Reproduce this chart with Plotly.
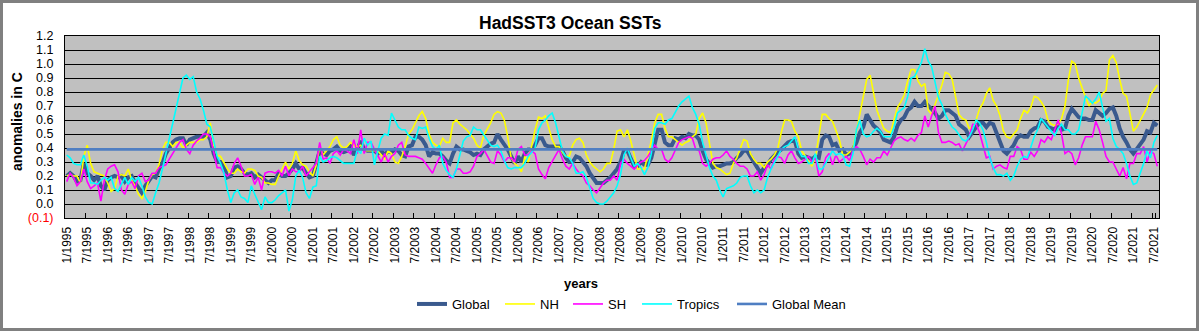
import plotly.graph_objects as go

# ---------------- data (monthly anomalies, 1/1995 .. 8/2021) ----------------
start_year = 1995
n_months = 320
months = [f"{(i % 12) + 1}/{start_year + i // 12}" for i in range(n_months)]
tick_labels = months[::6]

global_sst = [
    0.20, 0.22, 0.20, 0.16, 0.17, 0.29, 0.22, 0.20, 0.17, 0.20, 0.13, 0.10,
    0.17, 0.19, 0.20, 0.19, 0.20, 0.16, 0.19, 0.20, 0.15, 0.11, 0.08, 0.13,
    0.16, 0.20, 0.19, 0.25, 0.29, 0.36, 0.40, 0.44, 0.46, 0.47, 0.47, 0.42,
    0.46, 0.47, 0.48, 0.48, 0.48, 0.51, 0.46, 0.36, 0.30, 0.30, 0.27, 0.19,
    0.20, 0.26, 0.27, 0.25, 0.22, 0.21, 0.22, 0.19, 0.21, 0.19, 0.17, 0.15,
    0.17, 0.17, 0.22, 0.20, 0.20, 0.22, 0.25, 0.29, 0.25, 0.26, 0.22, 0.19,
    0.20, 0.28, 0.38, 0.36, 0.35, 0.38, 0.39, 0.41, 0.38, 0.37, 0.38, 0.41,
    0.35, 0.39, 0.45, 0.39, 0.38, 0.38, 0.38, 0.36, 0.38, 0.35, 0.38, 0.37,
    0.39, 0.38, 0.35, 0.34, 0.41, 0.42, 0.48, 0.48, 0.46, 0.42, 0.34, 0.37,
    0.36, 0.36, 0.34, 0.31, 0.29, 0.36, 0.41, 0.39, 0.39, 0.38, 0.37, 0.35,
    0.36, 0.35, 0.39, 0.41, 0.43, 0.44, 0.50, 0.46, 0.43, 0.39, 0.34, 0.29,
    0.34, 0.30, 0.36, 0.39, 0.39, 0.42, 0.47, 0.47, 0.42, 0.41, 0.41, 0.41,
    0.41, 0.38, 0.33, 0.30, 0.30, 0.34, 0.33, 0.30, 0.27, 0.22, 0.18, 0.15,
    0.15, 0.15, 0.17, 0.19, 0.22, 0.25, 0.30, 0.38, 0.38, 0.32, 0.27, 0.27,
    0.30, 0.28, 0.28, 0.33, 0.44, 0.53, 0.53, 0.44, 0.42, 0.42, 0.47, 0.46,
    0.48, 0.47, 0.50, 0.49, 0.49, 0.46, 0.38, 0.32, 0.29, 0.26, 0.27, 0.27,
    0.28, 0.29, 0.29, 0.30, 0.33, 0.35, 0.38, 0.38, 0.34, 0.30, 0.25, 0.22,
    0.26, 0.28, 0.32, 0.35, 0.37, 0.39, 0.42, 0.44, 0.45, 0.45, 0.36, 0.33,
    0.34, 0.33, 0.32, 0.34, 0.33, 0.46, 0.49, 0.48, 0.42, 0.43, 0.38, 0.39,
    0.35, 0.36, 0.39, 0.44, 0.51, 0.55, 0.64, 0.60, 0.56, 0.54, 0.51, 0.46,
    0.45, 0.44, 0.48, 0.56, 0.60, 0.62, 0.67, 0.69, 0.73, 0.70, 0.70, 0.73,
    0.70, 0.68, 0.65, 0.61, 0.63, 0.67, 0.67, 0.65, 0.63, 0.57, 0.55, 0.53,
    0.48, 0.52, 0.55, 0.58, 0.58, 0.55, 0.58, 0.57, 0.50, 0.45, 0.38, 0.36,
    0.39, 0.42, 0.47, 0.49, 0.48, 0.48, 0.52, 0.54, 0.55, 0.60, 0.59, 0.55,
    0.54, 0.53, 0.57, 0.53, 0.54, 0.63, 0.68, 0.65, 0.62, 0.61, 0.61, 0.60,
    0.60, 0.67, 0.65, 0.63, 0.65, 0.68, 0.69, 0.63, 0.54, 0.48, 0.44, 0.39,
    0.36, 0.39, 0.43, 0.46, 0.52, 0.51, 0.58, 0.56,
]

nh_sst = [
    0.20, 0.21, 0.20, 0.20, 0.15, 0.34, 0.42, 0.29, 0.23, 0.22, 0.21, 0.20,
    0.15, 0.09, 0.11, 0.20, 0.21, 0.20, 0.25, 0.17, 0.13, 0.07, 0.04, 0.09,
    0.17, 0.21, 0.22, 0.28, 0.39, 0.44, 0.44, 0.41, 0.44, 0.44, 0.40, 0.42,
    0.44, 0.44, 0.44, 0.46, 0.46, 0.48, 0.58, 0.42, 0.35, 0.34, 0.29, 0.25,
    0.22, 0.22, 0.25, 0.23, 0.22, 0.25, 0.25, 0.24, 0.20, 0.19, 0.15, 0.15,
    0.14, 0.14, 0.20, 0.25, 0.30, 0.25, 0.29, 0.38, 0.31, 0.28, 0.27, 0.23,
    0.20, 0.28, 0.41, 0.35, 0.38, 0.41, 0.46, 0.48, 0.42, 0.40, 0.41, 0.44,
    0.42, 0.41, 0.42, 0.38, 0.38, 0.38, 0.38, 0.38, 0.35, 0.32, 0.38, 0.36,
    0.30, 0.29, 0.34, 0.41, 0.50, 0.53, 0.58, 0.63, 0.66, 0.61, 0.50, 0.44,
    0.42, 0.41, 0.47, 0.44, 0.44, 0.58, 0.60, 0.57, 0.55, 0.53, 0.50, 0.47,
    0.42, 0.40, 0.49, 0.53, 0.58, 0.64, 0.66, 0.65, 0.60, 0.48, 0.33, 0.29,
    0.27, 0.23, 0.34, 0.30, 0.42, 0.53, 0.62, 0.61, 0.63, 0.55, 0.46, 0.41,
    0.41, 0.37, 0.34, 0.34, 0.42, 0.46, 0.47, 0.44, 0.35, 0.30, 0.27, 0.25,
    0.23, 0.25, 0.29, 0.29, 0.39, 0.52, 0.53, 0.48, 0.53, 0.45, 0.35, 0.25,
    0.25, 0.25, 0.35, 0.45, 0.58, 0.64, 0.64, 0.54, 0.48, 0.48, 0.46, 0.44,
    0.42, 0.44, 0.45, 0.48, 0.50, 0.61, 0.65, 0.58, 0.44, 0.29, 0.26, 0.25,
    0.23, 0.21, 0.22, 0.29, 0.33, 0.40, 0.46, 0.45, 0.36, 0.32, 0.29, 0.29,
    0.26, 0.30, 0.32, 0.35, 0.40, 0.51, 0.60, 0.60, 0.59, 0.52, 0.48, 0.38,
    0.34, 0.30, 0.27, 0.33, 0.48, 0.64, 0.64, 0.61, 0.59, 0.52, 0.46, 0.35,
    0.35, 0.37, 0.40, 0.52, 0.65, 0.76, 0.89, 0.92, 0.79, 0.67, 0.60, 0.54,
    0.52, 0.51, 0.60, 0.69, 0.73, 0.78, 0.88, 0.96, 0.96, 0.88, 0.84, 0.86,
    0.67, 0.64, 0.71, 0.78, 0.85, 0.94, 0.93, 0.89, 0.76, 0.64, 0.61, 0.60,
    0.54, 0.55, 0.60, 0.68, 0.72, 0.79, 0.83, 0.74, 0.70, 0.63, 0.52, 0.48,
    0.47, 0.50, 0.53, 0.61, 0.67, 0.65, 0.69, 0.77, 0.76, 0.73, 0.69, 0.60,
    0.57, 0.56, 0.57, 0.61, 0.70, 0.89, 1.02, 1.00, 0.90, 0.83, 0.77, 0.70,
    0.73, 0.72, 0.74, 0.79, 0.81, 1.03, 1.06, 1.01, 0.89, 0.79, 0.77, 0.65,
    0.52, 0.55, 0.60, 0.65, 0.69, 0.78, 0.82, 0.85,
]

sh_sst = [
    0.16, 0.22, 0.19, 0.13, 0.16, 0.25, 0.16, 0.11, 0.13, 0.15, 0.02, 0.17,
    0.25, 0.27, 0.28, 0.23, 0.10, 0.07, 0.14, 0.16, 0.11, 0.20, 0.22, 0.16,
    0.17, 0.22, 0.22, 0.26, 0.27, 0.28, 0.32, 0.36, 0.41, 0.44, 0.46, 0.39,
    0.36, 0.42, 0.45, 0.47, 0.50, 0.50, 0.48, 0.36, 0.26, 0.26, 0.22, 0.20,
    0.22, 0.29, 0.33, 0.27, 0.20, 0.20, 0.21, 0.14, 0.19, 0.10, 0.22, 0.23,
    0.23, 0.22, 0.24, 0.20, 0.27, 0.20, 0.25, 0.23, 0.23, 0.27, 0.20, 0.23,
    0.26, 0.29, 0.44, 0.32, 0.33, 0.29, 0.36, 0.38, 0.35, 0.39, 0.38, 0.36,
    0.46, 0.36, 0.53, 0.36, 0.44, 0.44, 0.39, 0.34, 0.30, 0.36, 0.30, 0.34,
    0.36, 0.42, 0.44, 0.35, 0.34, 0.34, 0.34, 0.33, 0.32, 0.29, 0.25, 0.22,
    0.28, 0.33, 0.34, 0.30, 0.19, 0.19, 0.25, 0.25, 0.22, 0.22, 0.23, 0.27,
    0.34, 0.36, 0.39, 0.34, 0.30, 0.29, 0.38, 0.35, 0.30, 0.33, 0.33, 0.30,
    0.39, 0.41, 0.35, 0.35, 0.38, 0.36, 0.25, 0.21, 0.18, 0.26, 0.30, 0.34,
    0.39, 0.32, 0.27, 0.25, 0.29, 0.25, 0.22, 0.20, 0.15, 0.13, 0.10, 0.08,
    0.12, 0.15, 0.17, 0.17, 0.20, 0.17, 0.29, 0.32, 0.29, 0.27, 0.25, 0.28,
    0.30, 0.31, 0.34, 0.38, 0.42, 0.39, 0.39, 0.32, 0.30, 0.33, 0.38, 0.44,
    0.46, 0.47, 0.48, 0.47, 0.39, 0.38, 0.29, 0.27, 0.29, 0.32, 0.33, 0.33,
    0.35, 0.38, 0.34, 0.32, 0.29, 0.27, 0.27, 0.25, 0.20, 0.20, 0.23, 0.17,
    0.21, 0.28, 0.25, 0.32, 0.34, 0.33, 0.29, 0.35, 0.38, 0.33, 0.29, 0.30,
    0.32, 0.34, 0.30, 0.33, 0.20, 0.23, 0.33, 0.36, 0.28, 0.35, 0.30, 0.32,
    0.34, 0.31, 0.39, 0.41, 0.39, 0.34, 0.28, 0.32, 0.30, 0.33, 0.33, 0.38,
    0.35, 0.40, 0.45, 0.47, 0.48, 0.46, 0.45, 0.47, 0.45, 0.49, 0.51, 0.63,
    0.55, 0.63, 0.70, 0.51, 0.44, 0.44, 0.45, 0.44, 0.42, 0.43, 0.38, 0.43,
    0.48, 0.57, 0.57, 0.51, 0.42, 0.33, 0.34, 0.25, 0.27, 0.28, 0.26, 0.25,
    0.34, 0.34, 0.41, 0.39, 0.32, 0.32, 0.37, 0.34, 0.38, 0.46, 0.44, 0.48,
    0.46, 0.53, 0.60, 0.50, 0.36, 0.38, 0.36, 0.28, 0.33, 0.42, 0.48, 0.48,
    0.48, 0.59, 0.53, 0.44, 0.34, 0.30, 0.30, 0.25, 0.20, 0.26, 0.18, 0.29,
    0.29, 0.36, 0.36, 0.41, 0.30, 0.38, 0.36, 0.27,
]

tropics_sst = [
    0.35, 0.33, 0.29, 0.28, 0.28, 0.35, 0.27, 0.15, 0.15, 0.14, 0.17, 0.19,
    0.17, 0.19, 0.11, 0.09, 0.14, 0.19, 0.14, 0.19, 0.16, 0.19, 0.13, 0.05,
    0.01, 0.00, 0.08, 0.15, 0.25, 0.36, 0.47, 0.58, 0.70, 0.80, 0.90, 0.92,
    0.89, 0.91, 0.80, 0.75, 0.67, 0.57, 0.55, 0.45, 0.34, 0.29, 0.22, 0.10,
    0.01, 0.08, 0.10, 0.05, 0.04, 0.01, 0.13, 0.07, 0.02, -0.04, 0.05, 0.01,
    0.01, 0.03, 0.06, 0.08, 0.10, -0.05, 0.03, 0.20, 0.24, 0.19, 0.08, 0.04,
    0.12, 0.13, 0.34, 0.30, 0.31, 0.33, 0.34, 0.33, 0.31, 0.29, 0.29, 0.29,
    0.29, 0.39, 0.36, 0.47, 0.42, 0.45, 0.28, 0.38, 0.47, 0.50, 0.49, 0.65,
    0.60, 0.55, 0.53, 0.53, 0.49, 0.47, 0.46, 0.55, 0.54, 0.55, 0.47, 0.41,
    0.39, 0.42, 0.29, 0.24, 0.21, 0.19, 0.25, 0.34, 0.45, 0.48, 0.49, 0.55,
    0.53, 0.53, 0.49, 0.46, 0.42, 0.41, 0.42, 0.38, 0.31, 0.26, 0.25, 0.26,
    0.26, 0.26, 0.29, 0.34, 0.37, 0.40, 0.53, 0.58, 0.60, 0.63, 0.65, 0.58,
    0.48, 0.38, 0.34, 0.33, 0.29, 0.22, 0.22, 0.23, 0.19, 0.11, 0.04, 0.01,
    0.00, 0.00, 0.02, 0.05, 0.08, 0.13, 0.21, 0.35, 0.40, 0.33, 0.27, 0.29,
    0.26, 0.21, 0.26, 0.36, 0.54, 0.58, 0.58, 0.57, 0.60, 0.61, 0.66, 0.70,
    0.73, 0.75, 0.77, 0.69, 0.64, 0.57, 0.44, 0.35, 0.26, 0.20, 0.17, 0.10,
    0.05, 0.11, 0.12, 0.13, 0.15, 0.19, 0.20, 0.20, 0.13, 0.08, 0.10, 0.08,
    0.10, 0.19, 0.25, 0.29, 0.34, 0.39, 0.41, 0.42, 0.45, 0.48, 0.39, 0.34,
    0.34, 0.29, 0.29, 0.36, 0.25, 0.25, 0.29, 0.34, 0.38, 0.35, 0.36, 0.35,
    0.28, 0.27, 0.36, 0.53, 0.60, 0.50, 0.48, 0.49, 0.52, 0.54, 0.52, 0.48,
    0.48, 0.48, 0.55, 0.65, 0.67, 0.69, 0.77, 0.90, 0.91, 0.96, 1.01, 1.11,
    1.02, 0.98, 0.86, 0.76, 0.71, 0.64, 0.59, 0.55, 0.53, 0.49, 0.46, 0.45,
    0.48, 0.53, 0.60, 0.58, 0.53, 0.44, 0.33, 0.26, 0.21, 0.21, 0.20, 0.22,
    0.17, 0.20, 0.27, 0.32, 0.34, 0.33, 0.40, 0.48, 0.53, 0.61, 0.58, 0.55,
    0.52, 0.49, 0.54, 0.57, 0.53, 0.53, 0.50, 0.50, 0.53, 0.64, 0.77, 0.75,
    0.72, 0.75, 0.80, 0.69, 0.59, 0.61, 0.47, 0.41, 0.39, 0.36, 0.29, 0.20,
    0.14, 0.15, 0.22, 0.29, 0.38, 0.33, 0.44, 0.49,
]

global_mean_value = 0.39
global_mean = [global_mean_value] * n_months

y_tick_vals = [1.2, 1.1, 1.0, 0.9, 0.8, 0.7, 0.6, 0.5, 0.4, 0.3, 0.2, 0.1, 0.0, -0.1]
y_tick_text = ["1.2", "1.1", "1.0", "0.9", "0.8", "0.7", "0.6", "0.5", "0.4",
               "0.3", "0.2", "0.1", "0.0", "<span style='color:#FF0000'>(0.1)</span>"]

# ---------------- figure ----------------
W, H = 1199, 331
ML, MR, MT, MB = 65, 40, 36, 113
PW, PH = W - ML - MR, H - MT - MB


def px_x(px):
    return (px - ML) / PW


def px_y(py):
    return (H - MB - py) / PH


FONT = "Liberation Sans, Arial, sans-serif"

fig = go.Figure()
# name, values, colour, width, legend id, x pixel where the legend text begins
series = [
    ("Global", global_sst, "#3A5A8E", 4, "legend", 452),
    ("NH", nh_sst, "#FFFF00", 1.6, "legend2", 540),
    ("SH", sh_sst, "#FF00FF", 1.6, "legend3", 608),
    ("Tropics", tropics_sst, "#00FFFF", 1.6, "legend4", 677),
    ("Global Mean", global_mean, "#4F7EC2", 2.6, "legend5", 772),
]
legend_layout = {}
for name, vals, color, width, leg, text_x in series:
    fig.add_trace(go.Scatter(
        x=months, y=vals, name=name, mode="lines",
        line=dict(color=color, width=width),
        legend=leg, hoverinfo="skip",
    ))
    legend_layout[leg] = dict(
        orientation="h", x=px_x(text_x - 40), y=px_y(304),
        xanchor="left", yanchor="middle",
        font=dict(family=FONT, size=13, color="black"),
        bgcolor="rgba(0,0,0,0)", borderwidth=0, itemwidth=30,
    )

shapes = []
frame = "#808080"
# outer grey frame of the chart
shapes.append(dict(type="rect", xref="paper", yref="paper", layer="above",
                   x0=px_x(0), x1=px_x(3), y0=px_y(H), y1=px_y(0),
                   fillcolor=frame, line=dict(width=0)))
shapes.append(dict(type="rect", xref="paper", yref="paper", layer="above",
                   x0=px_x(W - 3), x1=px_x(W), y0=px_y(H), y1=px_y(0),
                   fillcolor=frame, line=dict(width=0)))
shapes.append(dict(type="rect", xref="paper", yref="paper", layer="above",
                   x0=px_x(0), x1=px_x(W), y0=px_y(3), y1=px_y(0),
                   fillcolor=frame, line=dict(width=0)))
shapes.append(dict(type="rect", xref="paper", yref="paper", layer="above",
                   x0=px_x(0), x1=px_x(W), y0=px_y(H), y1=px_y(H - 3),
                   fillcolor=frame, line=dict(width=0)))

fig.update_layout(
    width=W, height=H,
    margin=dict(l=ML, r=MR, t=MT, b=MB, pad=0),
    paper_bgcolor="white",
    plot_bgcolor="#C0C0C0",
    font=dict(family=FONT, color="black", size=12),
    showlegend=True,
    shapes=shapes,
    annotations=[
        dict(text="<b>HadSST3 Ocean SSTs</b>", xref="paper", yref="paper",
             x=px_x(570), y=px_y(23), xanchor="center", yanchor="middle",
             showarrow=False, font=dict(family=FONT, size=17.5, color="black")),
        dict(text="<b>anomalies in C</b>", xref="paper", yref="paper",
             x=px_x(17), y=px_y(122), xanchor="center", yanchor="middle",
             textangle=-90, showarrow=False,
             font=dict(family=FONT, size=14, color="black")),
        dict(text="<b>years</b>", xref="paper", yref="paper",
             x=px_x(581), y=px_y(283), xanchor="center", yanchor="middle",
             showarrow=False, font=dict(family=FONT, size=13, color="black")),
    ],
    **legend_layout,
)

fig.update_xaxes(
    type="category",
    categoryorder="array", categoryarray=months,
    range=[-0.5, n_months - 0.5],
    tickmode="array", tickvals=tick_labels, ticktext=tick_labels,
    tickson="boundaries",
    ticks="inside", ticklen=5, tickcolor="black", tickwidth=1,
    tickangle=-90, ticklabelstandoff=3,
    tickfont=dict(family=FONT, size=12, color="black"),
    showgrid=False, zeroline=False,
    showline=True, linecolor="black", linewidth=1, mirror=True,
)

fig.update_yaxes(
    range=[-0.1, 1.2],
    tickmode="array", tickvals=y_tick_vals, ticktext=y_tick_text,
    ticks="outside", ticklen=0, tickcolor="black",
    ticklabelstandoff=8,
    tickfont=dict(family=FONT, size=12.5, color="black"),
    showgrid=True, gridcolor="black", gridwidth=1,
    zeroline=False,
    showline=True, linecolor="black", linewidth=1, mirror=True,
)

fig.write_html("out.html")
